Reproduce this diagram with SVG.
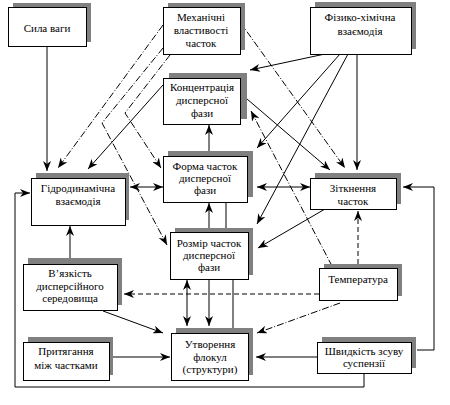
<svg xmlns="http://www.w3.org/2000/svg" width="450" height="405" viewBox="0 0 450 405">
<defs>
<marker id="ah" markerWidth="10" markerHeight="8" refX="10" refY="4" orient="auto-start-reverse" markerUnits="userSpaceOnUse">
<path d="M0,0 L10,4 L0,8 L3,4 z" fill="#000"/>
</marker>
</defs>
<style>
.sh{fill:#808080}
.bx{fill:#fff;stroke:#000;stroke-width:1}
text{font-family:"Liberation Serif","Times New Roman",serif;font-size:11px;fill:#000;text-anchor:middle}
.c{fill:none;stroke:#000;stroke-width:1}
.a{marker-end:url(#ah)}
.d{marker-start:url(#ah);marker-end:url(#ah)}
.dash{stroke-dasharray:5,3}
.dd{stroke-dasharray:7,2,1,2}
</style>
<rect width="450" height="405" fill="#fff"/>
<g id="connectors">
<line class="c a" x1="47" y1="46" x2="47" y2="171"/>
<polyline class="c a" points="364,373 364,387 15,387 15,193 30,193"/>
<polyline class="c a" points="417,350 434,350 434,187 403,187"/>
<line class="c a" x1="325" y1="54" x2="250" y2="70"/>
<line class="c a" x1="340" y1="54" x2="257" y2="148"/>
<line class="c a" x1="348" y1="54" x2="257" y2="224"/>
<line class="c a" x1="357" y1="54" x2="357" y2="170"/>
<line class="c a" x1="240" y1="93" x2="330" y2="170"/>
<line class="c a" x1="163" y1="85" x2="88" y2="169"/>
<line class="c a" x1="325" y1="209" x2="258" y2="248"/>
<line class="c d" x1="257" y1="187" x2="310" y2="187"/>
<line class="c d" x1="130" y1="187" x2="163" y2="187"/>
<line class="c a" x1="209" y1="156" x2="209" y2="125"/>
<line class="c a" x1="209" y1="232" x2="209" y2="203"/>
<line class="c" x1="226" y1="202" x2="226" y2="228"/>
<line class="c d" x1="187" y1="280" x2="187" y2="326"/>
<line class="c a" x1="209" y1="279" x2="209" y2="326"/>
<line class="c" x1="233" y1="279" x2="233" y2="328"/>
<line class="c a" x1="70" y1="258" x2="70" y2="226"/>
<line class="c a" x1="103" y1="311" x2="163" y2="333"/>
<line class="c a" x1="109" y1="357" x2="170" y2="357"/>
<line class="c a" x1="317" y1="357" x2="256" y2="357"/>
<line class="c dash a" x1="319" y1="294" x2="124" y2="294"/>
<line class="c dash a" x1="358" y1="264" x2="358" y2="211"/>
<line class="c dd a" x1="340" y1="303" x2="257" y2="333"/>
<line class="c dd a" x1="163" y1="25" x2="58" y2="168"/>
<polyline class="c dd a" points="163,48 102,123 167,245"/>
<polyline class="c dd a" points="170,55 125,113 161,168"/>
<line class="c dd a" x1="240" y1="22" x2="345" y2="168"/>
<line class="c dd a" x1="332" y1="266" x2="251" y2="111"/>
</g>
<g id="sila">
<rect class="sh" x="13" y="3" width="78" height="39"/>
<rect class="bx" x="8.5" y="7.5" width="78" height="39"/>
<text x="47" y="32">Сила ваги</text>
</g>
<g id="mekh">
<rect class="sh" x="168" y="3" width="77" height="47"/>
<rect class="bx" x="163.5" y="7.5" width="77" height="47"/>
<text x="201" y="21">Механічні</text>
<text x="201" y="34">властивості</text>
<text x="201" y="47">часток</text>
</g>
<g id="fizkhim">
<rect class="sh" x="315" y="2" width="101" height="47"/>
<rect class="bx" x="310.5" y="7.5" width="101" height="47"/>
<text x="360" y="21">Фізико-хімічна</text>
<text x="360" y="35">взаємодія</text>
</g>
<g id="konts">
<rect class="sh" x="169" y="73" width="78" height="46"/>
<rect class="bx" x="163.5" y="78.5" width="77" height="46"/>
<text x="202" y="91">Концентрація</text>
<text x="202" y="104">дисперсної</text>
<text x="202" y="117">фази</text>
</g>
<g id="forma">
<rect class="sh" x="168" y="151" width="85" height="46"/>
<rect class="bx" x="163.5" y="156.5" width="84" height="46"/>
<text x="205" y="170">Форма часток</text>
<text x="205" y="182">дисперсної</text>
<text x="205" y="194">фази</text>
</g>
<g id="gidro">
<rect class="sh" x="36" y="173" width="93" height="47"/>
<rect class="bx" x="31.5" y="178.5" width="94" height="47"/>
<text x="78" y="192">Гідродинамічна</text>
<text x="78" y="205">взаємодія</text>
</g>
<g id="zitk">
<rect class="sh" x="315" y="173" width="86" height="31"/>
<rect class="bx" x="310.5" y="178.5" width="86" height="31"/>
<text x="353" y="192">Зіткнення</text>
<text x="353" y="205">часток</text>
</g>
<g id="rozmir">
<rect class="sh" x="175" y="228" width="78" height="47"/>
<rect class="bx" x="170.5" y="232.5" width="78" height="47"/>
<text x="209" y="247">Розмір часток</text>
<text x="209" y="259">дисперсної</text>
<text x="209" y="271">фази</text>
</g>
<g id="vyazk">
<rect class="sh" x="28" y="258" width="94" height="47"/>
<rect class="bx" x="23.5" y="264.5" width="94" height="46"/>
<text x="70" y="277">В’язкість</text>
<text x="70" y="290">дисперсійного</text>
<text x="70" y="302">середовища</text>
</g>
<g id="temp">
<rect class="sh" x="324" y="264" width="78" height="32"/>
<rect class="bx" x="319.5" y="268.5" width="78" height="32"/>
<text x="358" y="283">Температура</text>
</g>
<g id="prytyag">
<rect class="sh" x="28" y="337" width="85" height="38"/>
<rect class="bx" x="23.5" y="342.5" width="86" height="38"/>
<text x="66" y="355">Притягання</text>
<text x="66" y="369">між частками</text>
</g>
<g id="utvor">
<rect class="sh" x="176" y="328" width="77" height="47"/>
<rect class="bx" x="171.5" y="333.5" width="77" height="47"/>
<text x="210" y="348">Утворення</text>
<text x="210" y="361">флокул</text>
<text x="210" y="373">(структури)</text>
</g>
<g id="shvyd">
<rect class="sh" x="322" y="337" width="94" height="31"/>
<rect class="bx" x="317.5" y="342.5" width="94" height="31"/>
<text x="364" y="355">Швидкість зсуву</text>
<text x="364" y="367">суспензії</text>
</g>
</svg>
